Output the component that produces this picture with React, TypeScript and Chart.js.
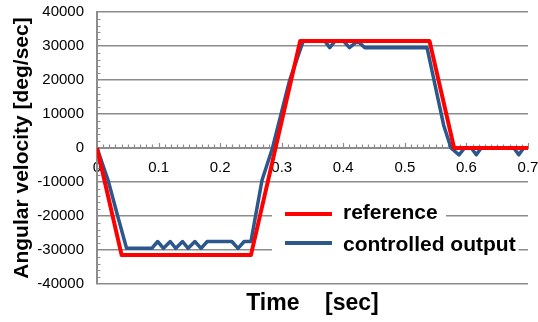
import React, { useEffect, useRef } from "react";
import { Chart, registerables } from "chart.js";

Chart.register(...registerables);

const FONT = '"Liberation Sans", Arial, sans-serif';

// Reference trajectory
const refTime = [0, 0.04, 0.25, 0.33, 0.54, 0.58, 0.7];
const refValue = [0, -31500, -31500, 31500, 31500, 0, 0];

// Controlled output
const outTime = [
  0, 0.018, 0.034, 0.048, 0.089, 0.0985, 0.108, 0.119, 0.128, 0.139, 0.148,
  0.159, 0.169, 0.179, 0.219, 0.229, 0.239, 0.25, 0.268, 0.285, 0.313, 0.335,
  0.37, 0.378, 0.387, 0.4, 0.41, 0.42, 0.426, 0.435, 0.536, 0.563, 0.575,
  0.588, 0.597, 0.608, 0.616, 0.624, 0.677, 0.685, 0.693, 0.7,
];
const outValue = [
  0, -9500, -20300, -29500, -29500, -27500, -29500, -27500, -29500, -27500,
  -29500, -27500, -29500, -27500, -27500, -29500, -27500, -27500, -9500, 0,
  20000, 31500, 31500, 29500, 31500, 31500, 29500, 31000, 31000, 29500, 29500,
  6700, 0, -2000, 0, 0, -2000, 0, 0, -2000, 0, 0,
];

const seriesLabels = ["reference", "controlled output"];
const seriesColors = ["#ff0000", "#2b578c"];

const xTickValues = [0, 0.1, 0.2, 0.3, 0.4, 0.5, 0.6, 0.7];
const xTickLabels = ["0", "0.1", "0.2", "0.3", "0.4", "0.5", "0.6", "0.7"];
const yTickValues = [-40000, -30000, -20000, -10000, 0, 10000, 20000, 30000, 40000];
const yTickLabels = ["-40000", "-30000", "-20000", "-10000", "0", "10000", "20000", "30000", "40000"];

const xTitle = "Time    [sec]";
const yTitle = "Angular velocity [deg/sec]";

const GRID = "#8c8c8c";

const minorTicksPlugin = {
  id: "minorTicks",
  beforeDatasetsDraw(chart: any) {
    const { ctx } = chart;
    const xs = chart.scales.x;
    const ys = chart.scales.y;
    const y0 = ys.getPixelForValue(0);
    const x0 = xs.getPixelForValue(0);
    ctx.save();
    ctx.strokeStyle = GRID;
    ctx.lineWidth = 1.2;
    ctx.beginPath();
    for (let i = 1; i <= 70; i++) {
      const px = Math.round(xs.getPixelForValue(i / 100)) + 0.5;
      const len = i % 10 === 0 ? 5 : 3.5;
      ctx.moveTo(px, y0);
      ctx.lineTo(px, y0 - len);
    }
    for (let v = -40000; v <= 40000; v += 2000) {
      if (v % 10000 === 0) continue;
      const py = Math.round(ys.getPixelForValue(v)) + 0.5;
      ctx.moveTo(x0, py);
      ctx.lineTo(x0 + 3.5, py);
    }
    ctx.stroke();
    ctx.restore();
  },
};

const boxLegendPlugin = {
  id: "boxLegend",
  afterDatasetsDraw(chart: any) {
    const { ctx } = chart;
    ctx.save();
    ctx.fillStyle = "#ffffff";
    ctx.fillRect(272, 198, 174, 66);
    ctx.font = `bold 21px ${FONT}`;
    ctx.textBaseline = "middle";
    const rowsLine = [214, 243];
    const rowsText = [213, 245];
    chart.data.datasets.forEach((ds: any, i: number) => {
      const w = ctx.measureText(ds.label).width;
      ctx.fillStyle = "#ffffff";
      ctx.fillRect(340, rowsText[i] - 13, w + 6, 26);
      ctx.strokeStyle = ds.borderColor;
      ctx.lineWidth = 4;
      ctx.beginPath();
      ctx.moveTo(285, rowsLine[i]);
      ctx.lineTo(332, rowsLine[i]);
      ctx.stroke();
      ctx.fillStyle = "#000000";
      ctx.fillText(ds.label, 343, rowsText[i]);
    });
    ctx.restore();
  },
};

export default function App() {
  const canvasRef = useRef<HTMLCanvasElement | null>(null);

  useEffect(() => {
    if (!canvasRef.current) return;
    const refData = refTime.map((t, i) => ({ x: t, y: refValue[i] }));
    const outData = outTime.map((t, i) => ({ x: t, y: outValue[i] }));
    const chart = new Chart(canvasRef.current, {
      type: "line",
      data: {
        datasets: [
          {
            label: seriesLabels[0],
            data: refData,
            borderColor: seriesColors[0],
            backgroundColor: seriesColors[0],
            borderWidth: 4,
            pointRadius: 0,
            tension: 0,
            borderJoinStyle: "round",
          },
          {
            label: seriesLabels[1],
            data: outData,
            borderColor: seriesColors[1],
            backgroundColor: seriesColors[1],
            borderWidth: 3.5,
            pointRadius: 0,
            tension: 0,
            borderJoinStyle: "round",
          },
        ],
      },
      options: {
        animation: false,
        responsive: false,
        devicePixelRatio: 1,
        layout: { padding: { left: 0, top: 12, right: 10, bottom: 0 } },
        plugins: {
          legend: { display: false },
          tooltip: { enabled: false },
        },
        scales: {
          x: {
            type: "linear",
            min: 0,
            max: 0.7,
            position: { y: 0 } as any,
            afterBuildTicks: (s: any) => {
              s.ticks = xTickValues.map((v) => ({ value: v }));
            },
            afterFit: (s: any) => {
              s.height = 0;
              s.paddingLeft = 0;
              s.paddingRight = 0;
              s.paddingTop = 0;
              s.paddingBottom = 0;
            },
            ticks: {
              autoSkip: false,
              maxRotation: 0,
              padding: 11,
              color: "#000",
              font: { family: FONT, size: 15 },
              callback: (_v: any, i: number) => xTickLabels[i],
            },
            grid: { display: false, drawTicks: false },
            border: { display: true, color: GRID, width: 2 },
          },
          x2: {
            type: "linear",
            position: "bottom",
            min: 0,
            max: 0.7,
            ticks: { display: false },
            grid: { display: false, drawTicks: false },
            border: { display: false },
            title: {
              display: true,
              text: xTitle,
              color: "#000",
              font: { family: FONT, size: 23, weight: "bold" },
              padding: { top: 0, bottom: 5 },
            },
            afterFit: (s: any) => {
              s.height = 38;
              s.paddingLeft = 0;
              s.paddingRight = 0;
            },
          },
          y: {
            type: "linear",
            min: -40000,
            max: 40000,
            afterBuildTicks: (s: any) => {
              s.ticks = yTickValues.map((v) => ({ value: v }));
            },
            afterFit: (s: any) => {
              s.width = 97;
              s.paddingTop = 0;
              s.paddingBottom = 0;
            },
            ticks: {
              padding: 13,
              color: "#000",
              font: { family: FONT, size: 15 },
              callback: (_v: any, i: number) => yTickLabels[i],
            },
            grid: { color: GRID, lineWidth: 1.5, drawTicks: false },
            border: { display: true, color: GRID, width: 2 },
            title: {
              display: true,
              text: yTitle,
              color: "#000",
              font: { family: FONT, size: 21, weight: "bold" },
              padding: { top: 10, bottom: 0 },
            },
          },
        },
      },
      plugins: [minorTicksPlugin, boxLegendPlugin],
    });
    return () => chart.destroy();
  }, []);

  return (
    <div style={{ position: "fixed", left: 0, top: 0, width: 538, height: 322, background: "#fff" }}>
      <canvas ref={canvasRef} width={538} height={322} style={{ display: "block" }} />
    </div>
  );
}
